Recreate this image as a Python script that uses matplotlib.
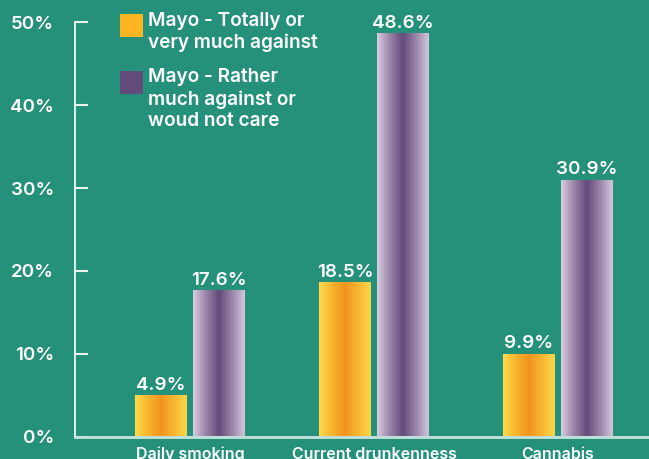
import numpy as np
import matplotlib
matplotlib.use("Agg")
import matplotlib.pyplot as plt
from matplotlib.colors import LinearSegmentedColormap
from matplotlib.patches import Rectangle

# ---- data ----
categories = ["Daily smoking", "Current drunkenness", "Cannabis"]
series_names = ["Mayo - Totally or\nvery much against",
                "Mayo - Rather\nmuch against or\nwoud not care"]
totally_against = [4.9, 18.5, 9.9]
rather_against = [17.6, 48.6, 30.9]
yticks = [0, 10, 20, 30, 40, 50]
ytick_labels = ["0%", "10%", "20%", "30%", "40%", "50%"]

# ---- style ----
BG = "#26917b"
FONT = ["Inter", "Open Sans", "DejaVu Sans"]
plt.rcParams["font.family"] = FONT
W, H = 649, 459

fig = plt.figure(figsize=(W / 100, H / 100), dpi=100, facecolor=BG)
px_l, px_r, px_b, px_t = 75, 649, 436.5, 22.5
ax = fig.add_axes([px_l / W, 1 - px_b / H, (px_r - px_l) / W, (px_b - px_t) / H])
ax.set_facecolor(BG)

unit = 184.0
x = np.arange(len(categories))
bw = 52 / unit
off = 29 / unit

orange_cmap = LinearSegmentedColormap.from_list(
    "o", ["#fedc4c", "#f7b52e", "#f0951f", "#f8b632", "#fdd64a"])
purple_cmap = LinearSegmentedColormap.from_list(
    "p", ["#d9cee1", "#9a84a8", "#654a7b", "#9a84a8", "#d3c8dc"])

b1 = ax.bar(x - off, totally_against, width=bw, color="none", zorder=2)
b2 = ax.bar(x + off, rather_against, width=bw, color="none", zorder=2)

grad = np.linspace(0, 1, 256).reshape(1, -1)
for bars, cmap in ((b1, orange_cmap), (b2, purple_cmap)):
    for r in bars:
        x0, w, h = r.get_x(), r.get_width(), r.get_height()
        ax.imshow(grad, cmap=cmap, aspect="auto", extent=(x0, x0 + w, 0, h),
                  zorder=2, interpolation="bilinear")
        ax.annotate(f"{h:.1f}%", (x0 + w / 2, h), xytext=(0, 4.5),
                    textcoords="offset points", ha="center", va="baseline",
                    color="white", fontsize=13.5, fontweight="semibold")

ax.set_xlim((px_l - 190) / unit, (px_r - 190) / unit)
ax.set_ylim(0, 50)

ax.set_xticks(x)
ax.set_xticklabels(categories, color="white", fontsize=11.5, fontweight="semibold")
ax.tick_params(axis="x", length=0, pad=7.5)
ax.set_yticks(yticks)
ax.set_yticklabels(ytick_labels, color="white", fontsize=13.5, fontweight="semibold")
ax.tick_params(axis="y", direction="in", length=9.5, width=1.5, color="#e8f2ef", pad=15)

for s in ("top", "right"):
    ax.spines[s].set_visible(False)
ax.spines["left"].set_color("#f0f6f4")
ax.spines["left"].set_linewidth(1.3)
ax.spines["bottom"].set_color("#c6e3dc")
ax.spines["bottom"].set_linewidth(2)

# ---- legend ----
leg_colors = ["#fdb523", "#634c79"]
leg_tops = [14, 71]
for name, col, top in zip(series_names, leg_colors, leg_tops):
    fig.patches.append(Rectangle((120 / W, 1 - (top + 23) / H), 23 / W, 23 / H,
                                 transform=fig.transFigure, facecolor=col,
                                 edgecolor="none"))
    fig.text(148 / W, 1 - (top - 2.5) / H, name, color="white", fontsize=13.7,
             fontweight="semibold", va="top", ha="left", linespacing=1.25)

fig.savefig("out.png", dpi=100, facecolor=BG)
